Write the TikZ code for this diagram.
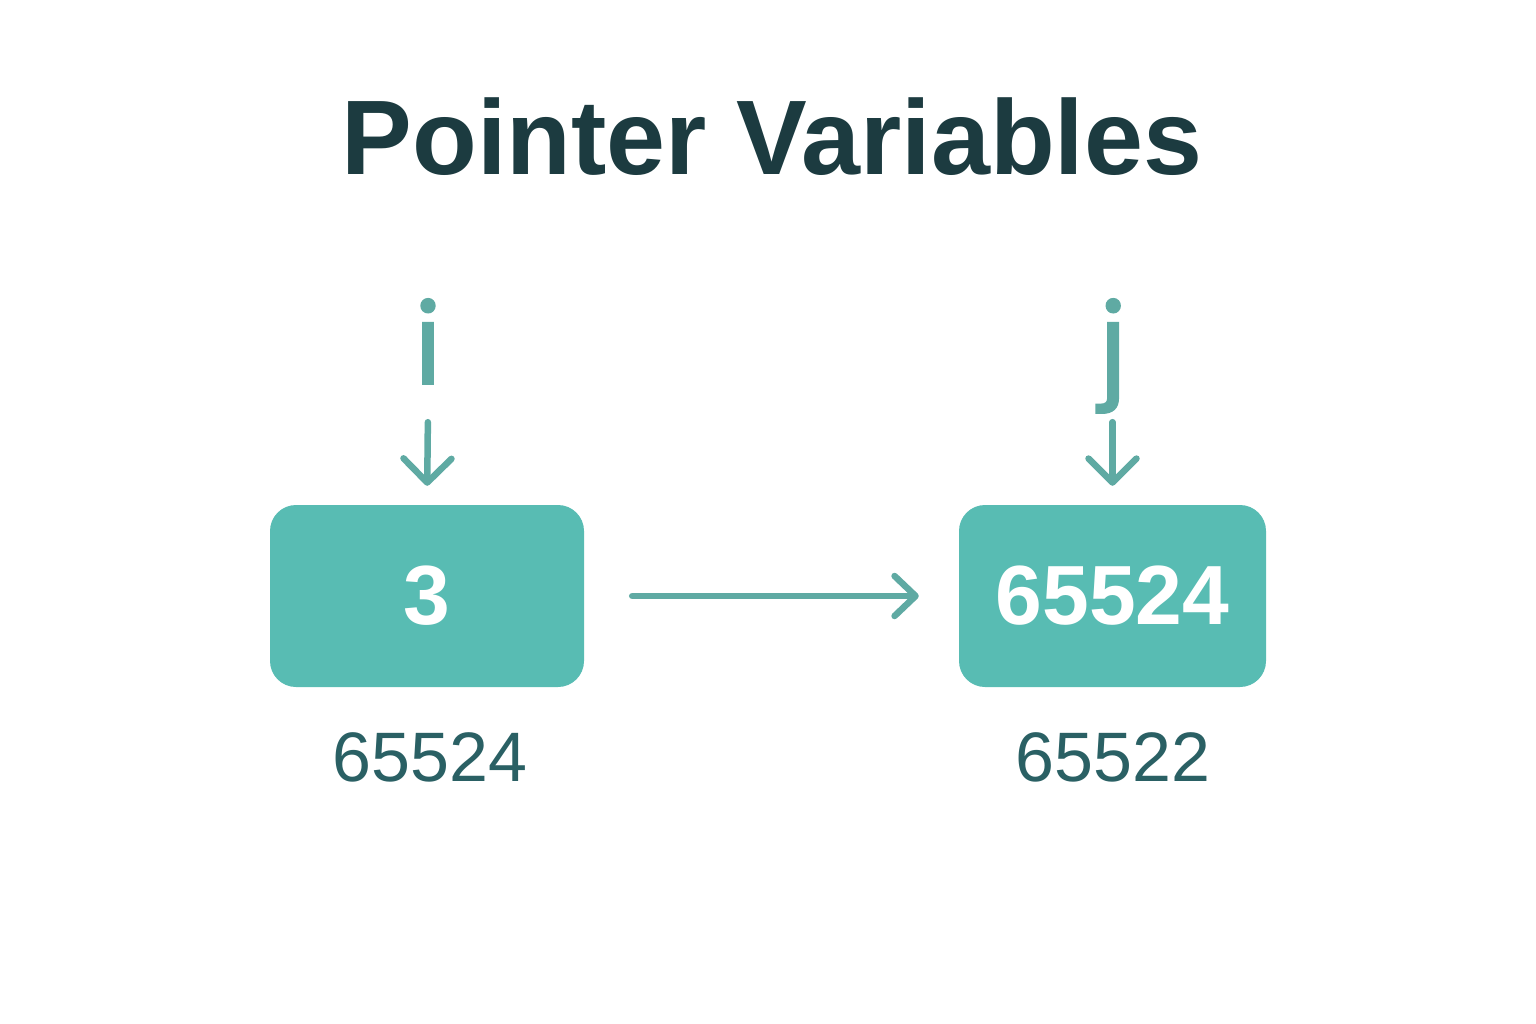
\documentclass[tikz,border=0pt]{standalone}
\usepackage{fontspec}
\setmainfont{Liberation Sans}
\newfontfamily\varfont[FakeBold=1.5]{Poppins}
\usetikzlibrary{arrows.meta,positioning}
\definecolor{titleink}{HTML}{1C3B40}
\definecolor{cellfill}{HTML}{58BCB3}
\definecolor{ptrink}{HTML}{5FAAA3}
\definecolor{addrink}{HTML}{2A6064}
\tikzset{
	cell/.style={fill=cellfill,rounded corners=26pt,minimum height=182pt,inner sep=0pt,text=white,font=\fontsize{84}{90}\selectfont\bfseries},
	varname/.style={text=ptrink,inner sep=0pt,text height=83pt,text depth=25pt,font=\fontsize{112}{120}\selectfont\varfont},
	addr/.style={text=addrink,inner sep=0pt,font=\fontsize{70}{80}\selectfont},
	ptr/.style={draw=ptrink,line width=6.5pt,line cap=round,-{Straight Barb[length=24pt,width=48pt,line cap=round,line join=round]}}
}

\begin{document}
\begin{tikzpicture}[x=1pt,y=-1pt]
		\useasboundingbox (0,0) rectangle (1536,1024);
		\node [anchor=base,text=titleink,inner sep=0pt,font=\fontsize{106}{110}\selectfont\bfseries] (title) at (772,175) {Pointer Variables};
		\node [varname,anchor=base] (ivar) at (428,384) {i};
		\node [varname,anchor=base] (jvar) at (1113,384) {j};
		\node [cell,minimum width=314pt] (celli) at (427,596) {3};
		\node [cell,minimum width=307pt] (cellj) at (1112.5,596) {65524};
		\node [addr,anchor=base] (addri) at (430,781) {65524};
		\node [addr,anchor=base] (addrj) at (1113,781) {65522};
		\draw [ptr,shorten <=13pt,shorten >=19pt] (ivar.south) -- (celli.north);
		\draw [ptr,shorten <=13pt,shorten >=19pt] (jvar.south -| cellj.north) -- (cellj.north);
		\draw [ptr,shorten <=48pt,shorten >=40pt,-{Straight Barb[length=21pt,width=40pt,line cap=round,line join=round]}] (celli.east) -- (cellj.west);
	\end{tikzpicture}
\end{document}
